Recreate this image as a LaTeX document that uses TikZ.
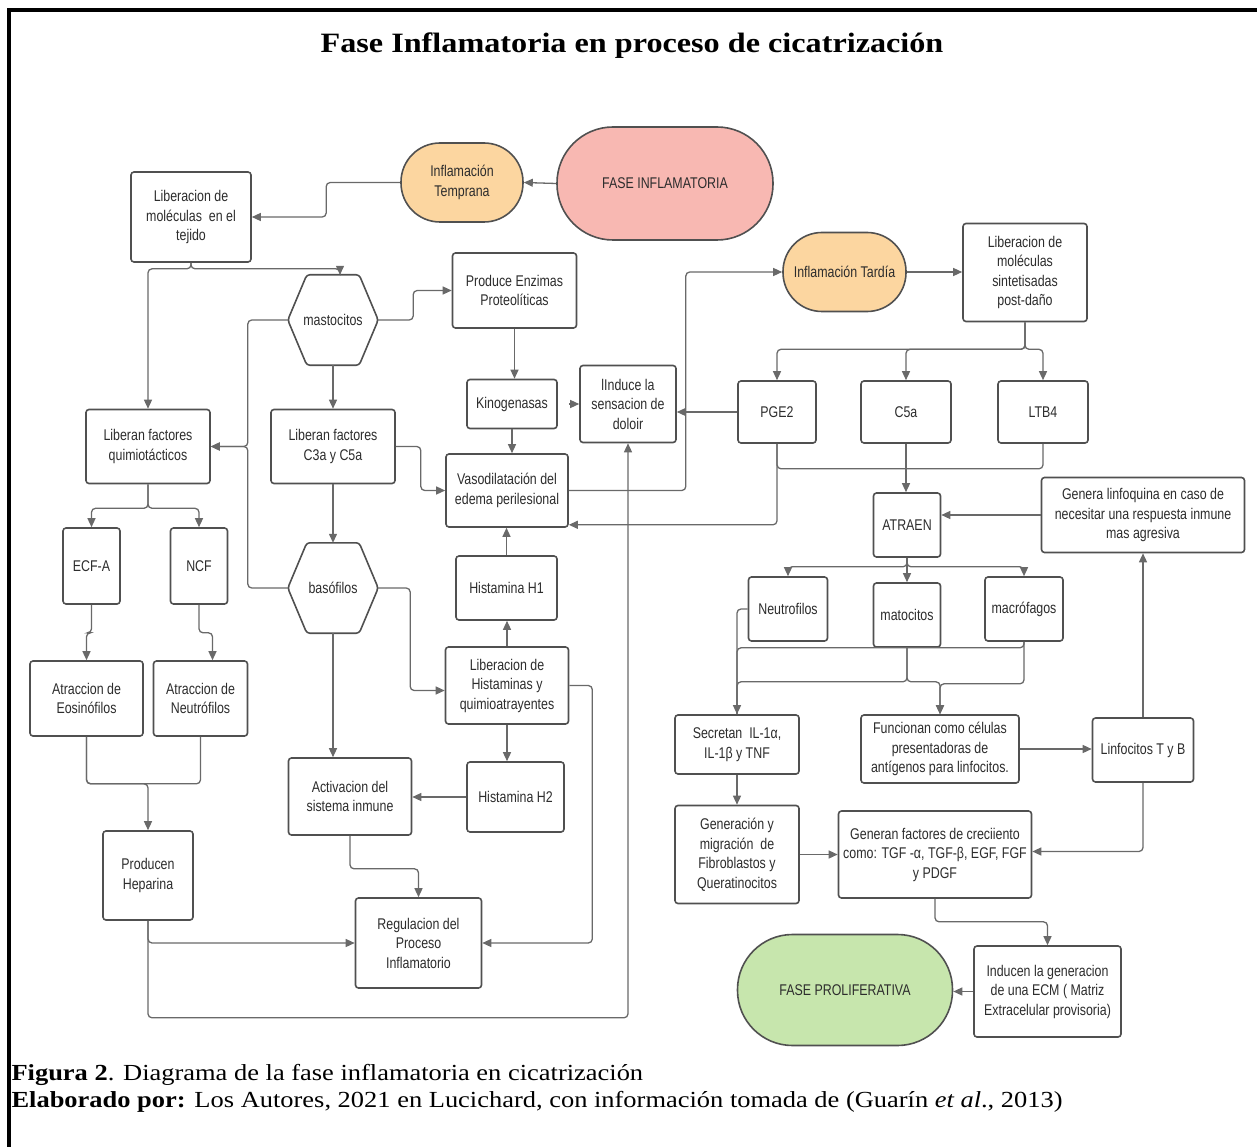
\documentclass[tikz,border=0pt]{standalone}
\usepackage{fontspec}
\setmainfont{Liberation Serif}
\newfontfamily\diagfont[FakeStretch=0.8]{Liberation Sans}
\newfontfamily\docfont[FakeStretch=1.15]{Liberation Serif}
\usetikzlibrary{arrows.meta}
\definecolor{boxgray}{RGB}{80,80,80}
\definecolor{linegray}{RGB}{105,105,105}
\definecolor{txtgray}{RGB}{45,45,45}
\definecolor{pinkfill}{RGB}{248,184,178}
\definecolor{orangefill}{RGB}{252,214,160}
\definecolor{greenfill}{RGB}{199,230,173}
\def\hexnode(#1,#2,#3,#4){
  \node[hexbox] (#1) at (#2,#3) {#4};
  \draw[boxgray, line width=1.6pt, rounded corners=3pt] (#1.west) -- ([xshift=19pt]#1.north west) -- ([xshift=-19pt]#1.north east) -- (#1.east) -- ([xshift=-19pt]#1.south east) -- ([xshift=19pt]#1.south west) -- cycle;
}

\begin{document}
\begin{tikzpicture}[x=1pt, y=-1pt,
  box/.style={draw=boxgray, line width=1.6pt, rounded corners=3pt, fill=white, align=center, text=txtgray, inner sep=0pt, font=\diagfont\fontsize{15.5}{19.5}\selectfont},
  hexbox/.style={rectangle, minimum width=90, minimum height=90, inner sep=0pt, align=center, text=txtgray, font=\diagfont\fontsize{15.5}{19.5}\selectfont},
  conn/.style={draw=linegray, line width=1.3pt, rounded corners=4pt},
  arr/.style={conn, -{Triangle[length=9pt,width=8pt]}}]
\useasboundingbox (0,0) rectangle (1257,1147);
\draw[line width=3.5pt] (9,1147) -- (9,10) -- (1257,10);
\node[font=\docfont\bfseries\fontsize{28}{32}\selectfont] (title) at (632,46) {Fase Inflamatoria en proceso de cicatrización};

\node[box, fill=pinkfill, rounded corners=56pt, minimum width=216, minimum height=113] (fase) at (665,183.5) {FASE INFLAMATORIA};
\node[box, fill=orangefill, rounded corners=39pt, minimum width=122, minimum height=79] (temprana) at (462,182.5) {Inflamación\\Temprana};
\node[box, minimum width=120, minimum height=90] (libtej) at (191,217) {Liberacion de\\moléculas~ en el\\tejido};
\hexnode(mast,333,320,mastocitos)
\node[box, minimum width=124, minimum height=75] (enzimas) at (514.5,290.5) {Produce Enzimas\\Proteolíticas};
\node[box, fill=orangefill, rounded corners=39pt, minimum width=123, minimum height=79] (tardia) at (844.5,272) {Inflamación Tardía};
\node[box, minimum width=124, minimum height=98] (libpost) at (1025,272.5) {Liberacion de\\moléculas\\sintetisadas\\post-daño};

\node[box, minimum width=124, minimum height=74] (quimio) at (148,446.5) {Liberan factores\\quimiotácticos};
\node[box, minimum width=124, minimum height=74] (c3a) at (333,446.5) {Liberan factores\\C3a y C5a};
\node[box, minimum width=90, minimum height=49] (kino) at (512,404) {Kinogenasas};
\node[box, minimum width=96, minimum height=77] (dolor) at (628,404) {lInduce la\\sensacion de\\doloir};
\node[box, minimum width=78, minimum height=62] (pge2) at (777,412) {PGE2};
\node[box, minimum width=90, minimum height=62] (c5a) at (906,412) {C5a};
\node[box, minimum width=90, minimum height=62] (ltb4) at (1043,412) {LTB4};
\node[box, minimum width=122, minimum height=73] (vaso) at (507,490.5) {Vasodilatación del\\edema perilesional};
\node[box, minimum width=67, minimum height=64] (atraen) at (907,525) {ATRAEN};
\node[box, minimum width=203, minimum height=75] (genlinfo) at (1143,515) {Genera linfoquina en caso de\\necesitar una respuesta inmune\\mas agresiva};

\node[box, minimum width=57, minimum height=76] (ecfa) at (91.5,566) {ECF-A};
\node[box, minimum width=57, minimum height=76] (ncf) at (199,566) {NCF};
\hexnode(baso,333,588,basófilos)
\node[box, minimum width=101, minimum height=64] (h1) at (506.5,588) {Histamina H1};
\node[box, minimum width=79, minimum height=64] (neutro) at (788,609) {Neutrofilos};
\node[box, minimum width=67, minimum height=64] (matoc) at (907,615) {matocitos};
\node[box, minimum width=78, minimum height=64] (macro) at (1024,609) {macrófagos};
\node[box, minimum width=123, minimum height=77] (libhist) at (507,685.5) {Liberacion de\\Histaminas y\\quimioatrayentes};
\node[box, minimum width=113, minimum height=75] (atreos) at (86.5,698.5) {Atraccion de\\Eosinófilos};
\node[box, minimum width=94, minimum height=75] (atrneu) at (200.5,698.5) {Atraccion de\\Neutrófilos};

\node[box, minimum width=124, minimum height=59] (secretan) at (737,744.5) {Secretan~ IL-1α,\\IL-1β y TNF};
\node[box, minimum width=158, minimum height=68] (funcion) at (940,749) {Funcionan como células\\presentadoras de\\antígenos para linfocitos.};
\node[box, minimum width=101, minimum height=64] (linfoc) at (1143,750) {Linfocitos T y B};
\node[box, minimum width=123, minimum height=77] (activ) at (350,796.5) {Activacion del\\sistema inmune};
\node[box, minimum width=97, minimum height=70] (h2) at (515.5,797) {Histamina H2};
\node[box, minimum width=90, minimum height=89] (producen) at (148,875.5) {Producen\\Heparina};
\node[box, minimum width=124, minimum height=98] (generac) at (737,854.5) {Generación y\\migración~ de\\Fibroblastos y\\Queratinocitos};
\node[box, minimum width=193, minimum height=87] (factores) at (935,854.5) {Generan factores de creciiento\\como: TGF -α, TGF-β, EGF, FGF\\y PDGF};
\node[box, minimum width=126, minimum height=90] (regul) at (418.5,943) {Regulacion del\\Proceso\\Inflamatorio};
\node[box, fill=greenfill, rounded corners=55pt, minimum width=215, minimum height=111] (prolif) at (845,990) {FASE PROLIFERATIVA};
\node[box, minimum width=147, minimum height=91] (inducen) at (1047.5,991.5) {Inducen la generacion\\de una ECM ( Matriz\\Extracelular provisoria)};

\draw[arr] (fase.west) -- (temprana.east);
\draw[arr] (temprana.west) -- ++(-74,0) |- (libtej.east);
\draw[arr] (libtej.south) -- ++(0,6) -| ([xshift=7pt]mast.north);
\draw[arr] (libtej.south) -- ++(0,6) -| (quimio.north);
\draw[arr] (mast.west) -- ++(-40,0) |- (quimio.east);
\draw[arr] (baso.west) -- ++(-40,0) |- (quimio.east);
\draw[arr] (mast.east) -- ++(35,0) |- (enzimas.west);
\draw[arr] (mast.south) -- (c3a.north);
\draw[arr] (c3a.south) -- (baso.north);
\draw[arr] (c3a.east) -- ++(25,0) |- (vaso.west);
\draw[arr] (enzimas.south) -- (enzimas.south |- kino.north);
\draw[arr] (kino.south) -- (kino.south |- vaso.north);
\draw[arr, shorten <=11pt] (kino.east) -- (kino.east -| dolor.west);
\draw[arr] (pge2.west) -- (pge2.west -| dolor.east);
\draw[arr] (vaso.east) -- ++(117,0) |- (tardia.west);
\draw[arr] (tardia.east) -- (tardia.east -| libpost.west);
\draw[arr] (libpost.south) -- ++(0,27) -| (pge2.north);
\draw[arr] (libpost.south) -- ++(0,27) -| (c5a.north);
\draw[arr] (libpost.south) -- ++(0,27) -| (ltb4.north);
\draw[conn] (pge2.south) -- ++(0,25) -| (ltb4.south);
\draw[arr] (c5a.south) -- (c5a.south |- atraen.north);
\draw[arr] (pge2.south) |- ([yshift=3pt]vaso.south east);

\draw[arr] (genlinfo.west) -- (genlinfo.west -| atraen.east);
\draw[arr] (atraen.south) -- ++(0,9) -| (neutro.north);
\draw[arr] (atraen.south) -- ++(0,9) -| (macro.north);
\draw[arr] (atraen.south) -- (atraen.south |- matoc.north);
\draw[arr] (neutro.west) -| (secretan.north);
\draw[conn] (macro.south) -- ++(0,6) -| (secretan.north);
\draw[conn] (matoc.south) -- ++(0,34) -| (secretan.north);
\draw[arr] (matoc.south) -- ++(0,34) -| (funcion.north);
\draw[arr] (macro.south) -- ++(0,42) -| (funcion.north);
\draw[arr] (funcion.east) -- (funcion.east -| linfoc.west);
\draw[arr] (linfoc.north) -- (linfoc.north |- genlinfo.south);
\draw[arr] (secretan.south) -- (secretan.south |- generac.north);
\draw[arr] (generac.east) -- (generac.east -| factores.west);
\draw[arr] (linfoc.south) |- ([yshift=3pt]factores.east);
\draw[arr] (factores.south) -- ++(0,23) -| (inducen.north);
\draw[arr] (inducen.west) -- (inducen.west -| prolif.east);

\draw[arr] (quimio.south) -- ++(0,24) -| (ecfa.north);
\draw[arr] (quimio.south) -- ++(0,24) -| (ncf.north);
\draw[arr] (ecfa.south) -- ++(0,28) -| (atreos.north);
\draw[arr] (ncf.south) -- ++(0,28) -| ([xshift=12pt]atrneu.north);
\draw[conn] (atreos.south) -- ++(0,47) -| (atrneu.south);
\draw[arr] (atreos.south) -- ++(0,47) -| (producen.north);
\draw[arr] (baso.south) -- (baso.south |- activ.north);
\draw[arr] (h2.west) -- (h2.west -| activ.east);
\draw[arr] (libhist.north) -- (libhist.north |- h1.south);
\draw[arr] (h1.north) -- (h1.north |- vaso.south);
\draw[arr] (libhist.south) -- (libhist.south |- h2.north);
\draw[arr] (baso.east) -- ++(32,0) |- ([yshift=-5pt]libhist.west);
\draw[arr] (activ.south) -- ++(0,33) -| (regul.north);
\draw[arr] (libhist.east) -- ++(23,0) |- (regul.east);
\draw[arr] (producen.south) |- (regul.west);
\draw[arr] (producen.south) -- ++(0,97) -| (dolor.south);

\node[anchor=base west, font=\docfont\fontsize{23}{26}\selectfont] (cap1) at (8,1080) {\textbf{Figura 2}. Diagrama de la fase inflamatoria en cicatrización};
\node[anchor=base west, font=\docfont\fontsize{23}{26}\selectfont] (cap2) at (8,1107) {\textbf{Elaborado por:} Los Autores, 2021 en Lucichard, con información tomada de (Guarín \textit{et al}., 2013)};
\end{tikzpicture}
\end{document}
